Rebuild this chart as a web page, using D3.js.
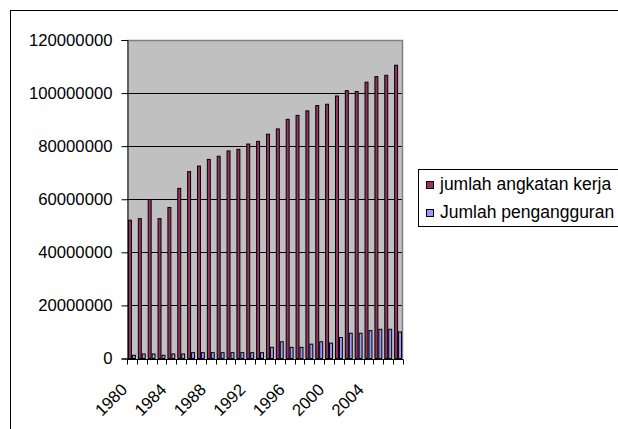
<!DOCTYPE html>
<html>
<head>
<meta charset="utf-8">
<script src="https://cdn.jsdelivr.net/npm/d3@7"></script>
<style>
  html, body { margin: 0; padding: 0; background: #fff; }
  svg { display: block; font-family: "Liberation Sans", Arial, sans-serif; }
</style>
</head>
<body>
<svg id="chart" width="618" height="429"></svg>
<script>
const years = ["1980","1981","1982","1983","1984","1985","1986","1987","1988","1989",
  "1990","1991","1992","1993","1994","1995","1996","1997","1998","1999",
  "2000","2001","2002","2003","2004","2005","2006","2007"];
const angkatanKerja = [52100000, 52700000, 59900000, 52700000, 56900000, 64100000, 70400000,
  72500000, 75000000, 76200000, 78200000, 78800000, 80800000, 81800000, 84500000, 86500000,
  90100000, 91600000, 93300000, 95300000, 95800000, 98900000, 100900000, 100600000,
  104100000, 106200000, 106700000, 110500000];
const pengangguran = [1200000, 1700000, 1700000, 1200000, 1700000, 1700000, 2200000, 2200000,
  2200000, 2200000, 2200000, 2200000, 2200000, 2200000, 4200000, 6300000, 4200000, 4200000,
  5400000, 6300000, 5800000, 7900000, 9500000, 9500000, 10500000, 11000000, 11000000, 10000000];
const yTickValues = [0, 20000000, 40000000, 60000000, 80000000, 100000000, 120000000];
const xTickLabels = ["1980","1984","1988","1992","1996","2000","2004"];
const seriesNames = ["jumlah angkatan kerja", "Jumlah pengangguran"];
const seriesColors = ["#993366", "#9999FF"];

const svg = d3.select("#chart");
const plot = { left: 127, right: 403, top: 40, bottom: 358.5 };

// outer chart border
svg.append("rect").attr("x", 10.5).attr("y", 10.5).attr("width", 700).attr("height", 500)
  .attr("fill", "none").attr("stroke", "#000").attr("stroke-width", 1);

const x0 = d3.scaleBand().domain(years).range([plot.left, plot.right]).padding(0);
const x1 = d3.scaleBand().domain([0, 1]).range([x0.bandwidth() * 0.1, x0.bandwidth() * 0.9]).padding(0);
const y = d3.scaleLinear().domain([0, 120000000]).range([plot.bottom, plot.top]);

// plot background
svg.append("rect").attr("x", plot.left).attr("y", plot.top)
  .attr("width", plot.right - plot.left).attr("height", plot.bottom - plot.top)
  .attr("fill", "#C0C0C0");

// gridlines
svg.append("g").selectAll("line").data(yTickValues.filter(d => d > 0 && d < 120000000)).join("line")
  .attr("x1", plot.left).attr("x2", plot.right)
  .attr("y1", d => Math.round(y(d)) + 0.5).attr("y2", d => Math.round(y(d)) + 0.5)
  .attr("stroke", "#000").attr("stroke-width", 1);

// plot border (top/right gray)
svg.append("path")
  .attr("d", `M${plot.left},${plot.top + 0.5}H${plot.right - 0.5}V${plot.bottom}`)
  .attr("fill", "none").attr("stroke", "#808080").attr("stroke-width", 1.5);

// bars
const series = [angkatanKerja, pengangguran];
series.forEach((vals, si) => {
  svg.append("g").selectAll("rect").data(years).join("rect")
    .attr("x", (d) => x0(d) + x1(si) + 0.5)
    .attr("width", x1.bandwidth() - 1)
    .attr("y", (d, i) => y(vals[i]))
    .attr("height", (d, i) => y(0) - y(vals[i]))
    .attr("fill", seriesColors[si])
    .attr("stroke", "#000").attr("stroke-width", 1);
});

// y axis
const yAxis = d3.axisLeft(y).tickValues(yTickValues).tickSize(6).tickPadding(9)
  .tickFormat(d3.format("d"));
const gy = svg.append("g").attr("transform", `translate(${plot.left + 0.5},0)`).call(yAxis);
gy.select(".domain").attr("stroke", "#000");
gy.selectAll("text").attr("font-size", "16.7px").attr("fill", "#000")
  .attr("font-family", "'Liberation Sans', Arial, sans-serif");

// x axis: ticks at category boundaries
const gx = svg.append("g").attr("transform", `translate(0,${Math.round(plot.bottom) + 0.5})`);
gx.append("line").attr("x1", plot.left).attr("x2", plot.right + 0.5).attr("stroke", "#000");
const boundaries = years.map(d => x0(d)).concat([plot.right]);
gx.selectAll("line.tick").data(boundaries).join("line").attr("class", "tick")
  .attr("x1", d => Math.round(d) + 0.5).attr("x2", d => Math.round(d) + 0.5)
  .attr("y1", 0).attr("y2", 5).attr("stroke", "#000");
gx.selectAll("text").data(xTickLabels).join("text")
  .attr("transform", d => `translate(${x0(d) + x0.bandwidth() / 2 - 12},${23}) rotate(-45)`)
  .attr("text-anchor", "end").attr("dy", "0.7em")
  .attr("font-size", "16.7px").attr("fill", "#000")
  .text(d => d);

// legend
const lg = svg.append("g");
lg.append("rect").attr("x", 418.5).attr("y", 169.5).attr("width", 300).attr("height", 57)
  .attr("fill", "#fff").attr("stroke", "#000").attr("stroke-width", 1);
seriesNames.forEach((name, i) => {
  lg.append("rect").attr("x", 426.5).attr("y", 181.5 + i * 28).attr("width", 7).attr("height", 7)
    .attr("fill", seriesColors[i]).attr("stroke", "#000").attr("stroke-width", 1);
  lg.append("text").attr("x", 440).attr("y", 190 + i * 28)
    .attr("font-size", "17.5px").attr("fill", "#000").text(name);
});
</script>
</body>
</html>
